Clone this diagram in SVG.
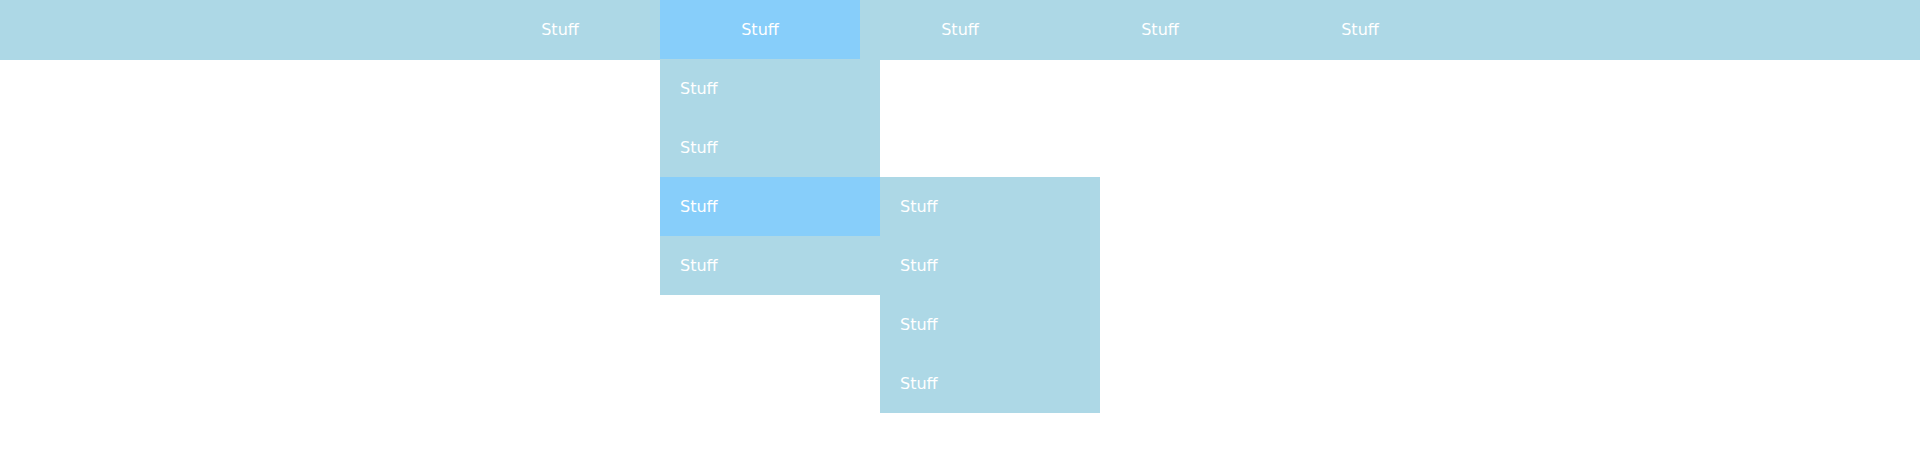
<svg xmlns="http://www.w3.org/2000/svg" width="1920" height="474" viewBox="0 0 1920 474">
<style>
.bg{fill:#ADD8E6}
.hi{fill:#87CEFA}
text{font-family:"DejaVu Sans",Verdana,sans-serif;font-size:16px;fill:#FFFFFF}
.c{text-anchor:middle}
</style>
<rect width="1920" height="474" fill="#FFFFFF"/>
<g id="menubar">
<rect class="bg" x="0" y="0" width="1920" height="60"/>
</g>
<g id="top1"><text class="c" x="560" y="35">Stuff</text></g>
<g id="top2"><rect class="hi" x="660" y="0" width="200" height="59"/><text class="c" x="760" y="35">Stuff</text></g>
<g id="top3"><text class="c" x="960" y="35">Stuff</text></g>
<g id="top4"><text class="c" x="1160" y="35">Stuff</text></g>
<g id="top5"><text class="c" x="1360" y="35">Stuff</text></g>
<g id="drop1"><rect class="bg" x="660" y="59" width="220" height="59"/><text x="680" y="94">Stuff</text></g>
<g id="drop2"><rect class="bg" x="660" y="118" width="220" height="59"/><text x="680" y="153">Stuff</text></g>
<g id="drop3"><rect class="hi" x="660" y="177" width="220" height="59"/><text x="680" y="212">Stuff</text></g>
<g id="drop4"><rect class="bg" x="660" y="236" width="220" height="59"/><text x="680" y="271">Stuff</text></g>
<g id="sub1"><rect class="bg" x="880" y="177" width="220" height="59"/><text x="900" y="212">Stuff</text></g>
<g id="sub2"><rect class="bg" x="880" y="236" width="220" height="59"/><text x="900" y="271">Stuff</text></g>
<g id="sub3"><rect class="bg" x="880" y="295" width="220" height="59"/><text x="900" y="330">Stuff</text></g>
<g id="sub4"><rect class="bg" x="880" y="354" width="220" height="59"/><text x="900" y="389">Stuff</text></g>
<g id="connectors"/>
</svg>
